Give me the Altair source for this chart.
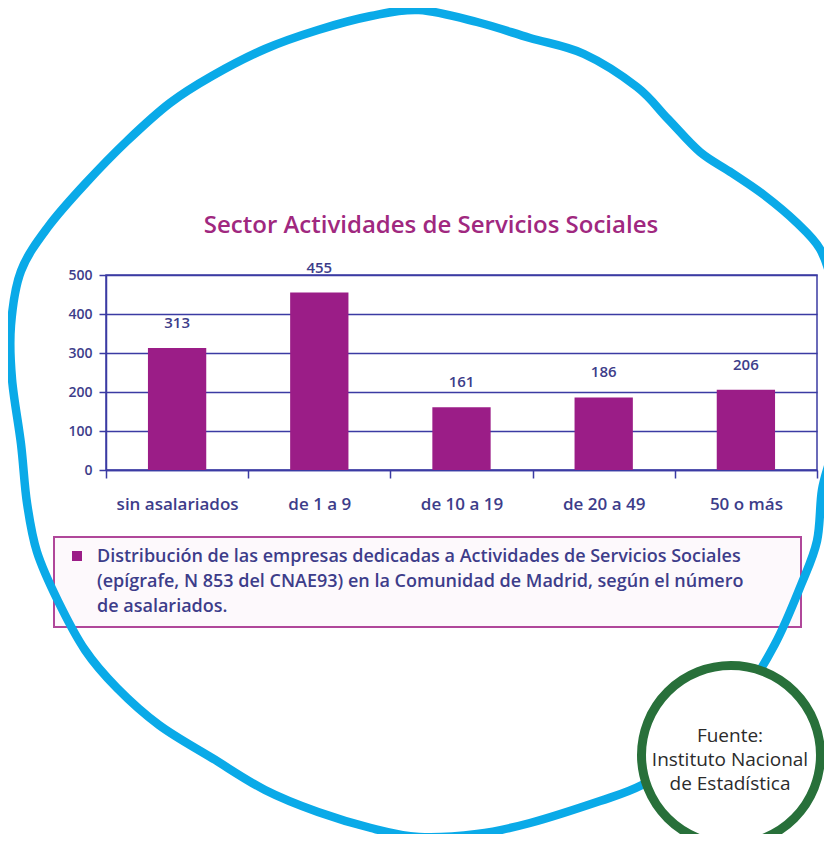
import altair as alt
import pandas as pd

# ---- chart data ----
categories = ["sin asalariados", "de 1 a 9", "de 10 a 19", "de 20 a 49", "50 o más"]
values = [313, 455, 161, 186, 206]
y_ticks = [0, 100, 200, 300, 400, 500]
title_text = "Sector Actividades de Servicios Sociales"
legend_lines = [
    "Distribución de las empresas dedicadas a Actividades de Servicios Sociales",
    "(epígrafe, N 853 del CNAE93) en la Comunidad de Madrid, según el número",
    "de asalariados.",
]
source_lines = ["Fuente:", "Instituto Nacional", "de Estadística"]

# ---- styling ----
FONT = "Open Sans"
BAR = "#9b1d87"
AXIS = "#3b3ba3"
LABEL = "#3d3d8a"
TITLE = "#a0287f"
BLUE = "#0aaae8"
GREEN = "#28703a"

# plot origin on the page (for decorations, relative offsets)
OX, OY = 106, 275
PLOT_W, PLOT_H = 711, 195

# hand-drawn blob outline (page coordinates, decoration only)
outline = [(419,10),(477,22),(530,38),(584,54),(637,87),(668,119),(700,152),(732,173),
           (764,195),(796,222),(820,249),(832,285),(837,340),(837,400),(832,450),(822,490),
           (817,541),(801,585),(775,644),(740,700),(690,755),(642,785),(600,801),(530,823),
           (477,834),(419,837),(371,828),(318,812),(265,790),(212,758),(159,725),(117,688),
           (85,650),(58,601),(37,552),(27,503),(21,444),(12,379),(11,325),(21,271),(48,227),
           (85,184),(127,141),(170,103),(212,76),(265,49),(318,30),(371,16)]

def smooth_path(pts):
    n = len(pts)
    p = [(x - OX, y - OY) for x, y in pts]
    d = f"M{p[0][0]:.1f},{p[0][1]:.1f}"
    for i in range(n):
        p0, p1, p2, p3 = p[i - 1], p[i], p[(i + 1) % n], p[(i + 2) % n]
        c1 = (p1[0] + (p2[0] - p0[0]) / 6, p1[1] + (p2[1] - p0[1]) / 6)
        c2 = (p2[0] - (p3[0] - p1[0]) / 6, p2[1] - (p3[1] - p1[1]) / 6)
        d += f"C{c1[0]:.1f},{c1[1]:.1f},{c2[0]:.1f},{c2[1]:.1f},{p2[0]:.1f},{p2[1]:.1f}"
    return d + "Z"

df = pd.DataFrame({"cat": categories, "val": values})
one = pd.DataFrame({"k": [0]})

x_axis = alt.Axis(title=None, labelAngle=0, tickBand="extent", tickSize=8,
                  labelPadding=18, labelFontSize=17, labelFont=FONT,
                  labelFontWeight=600, labelColor=LABEL,
                  domainColor=AXIS, tickColor=AXIS, domainWidth=1.5, tickWidth=1.5)
y_axis = alt.Axis(title=None, values=y_ticks, tickCount=6, labelOverlap=False,
                  grid=True, gridColor=AXIS, gridWidth=1.5,
                  tickSize=7, labelPadding=7, labelFontSize=14, labelFont=FONT,
                  labelFontWeight=600, labelColor=LABEL,
                  domainColor=AXIS, tickColor=AXIS, domainWidth=1.5, tickWidth=1.5)
x_enc = alt.X("cat:N", sort=categories, scale=alt.Scale(paddingInner=0, paddingOuter=0), axis=x_axis)
y_enc = alt.Y("val:Q", scale=alt.Scale(domain=[0, 500], nice=False), axis=y_axis)

bars = alt.Chart(df).mark_bar(color=BAR, width={"band": 0.41}).encode(x=x_enc, y=y_enc)
labels = alt.Chart(df).mark_text(baseline="bottom", dy=-17, fontSize=15, font=FONT,
                                 fontWeight=600, color=LABEL).encode(
    x=x_enc, y=y_enc, text="val:Q")

title = alt.Chart(one).mark_text(text=title_text, align="center", baseline="alphabetic",
                                 fontSize=24, font=FONT, fontWeight=600, color=TITLE).encode(
    x=alt.value(431 - OX), y=alt.value(233 - OY))

# legend / caption box
box = alt.Chart(one).mark_rect(fill="#fdf9fc", stroke="#b0479a", strokeWidth=2).encode(
    x=alt.value(54 - OX), x2=alt.value(801 - OX), y=alt.value(537 - OY), y2=alt.value(627 - OY))
marker = alt.Chart(one).mark_square(color=BAR, size=100, opacity=1).encode(
    x=alt.value(77 - OX), y=alt.value(556 - OY))
caption = alt.Chart(one).mark_text(text=legend_lines, align="left", baseline="middle",
                                   lineHeight=25, fontSize=18, font=FONT, fontWeight=600,
                                   color=LABEL).encode(
    x=alt.value(97 - OX), y=alt.value(557 - OY))

blob = alt.Chart(one).mark_point(shape=smooth_path(outline), size=4, filled=False,
                                 stroke=BLUE, strokeWidth=8.5, opacity=1,
                                 strokeJoin="round").encode(
    x=alt.value(0), y=alt.value(0))

seal = alt.Chart(one).mark_point(shape="circle", size=179 * 179, filled=True,
                                 fill="white", stroke=GREEN, strokeWidth=9, opacity=1,
                                 fillOpacity=1).encode(
    x=alt.value(731 - OX), y=alt.value(755 - OY))
source = alt.Chart(one).mark_text(text=source_lines, align="center", baseline="middle",
                                  lineHeight=24, fontSize=19, font=FONT, color="#2b2b2b").encode(
    x=alt.value(730 - OX), y=alt.value(736 - OY))

chart = alt.layer(box, marker, caption, title, bars, labels, blob, seal, source).properties(
    width=PLOT_W, height=PLOT_H,
    background="white",
    autosize=alt.AutoSizeParams(type="none"),
    padding={"left": OX - 8, "top": OY - 8, "right": 816 - (OX - 8) - PLOT_W,
             "bottom": 826 - (OY - 8) - PLOT_H},
).configure_view(stroke=AXIS, strokeWidth=1.5)

chart.save("out.html", embed_options={"renderer": "svg", "actions": False})
